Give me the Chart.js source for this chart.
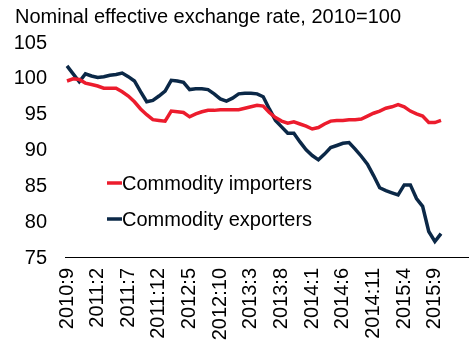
<!DOCTYPE html>
<html>
<head>
<meta charset="utf-8">
<script src="https://cdn.jsdelivr.net/npm/chart.js@4.4.1/dist/chart.umd.min.js"></script>
<style>
  body { margin: 0; background: #fff; }
  #neerChart { display: block; }
</style>
</head>
<body>
<canvas id="neerChart" width="469" height="344"></canvas>
<script>
// monthly categories, 2010:9 .. 2015:10
const months = [];
for (let y = 2010, m = 9; months.length < 62; m++) {
    if (m > 12) { m = 1; y++; }
    months.push(y + ':' + m);
}

const tickLabels = ['2010:9', '2011:2', '2011:7', '2011:12', '2012:5', '2012:10', '2013:3',
    '2013:8', '2014:1', '2014:6', '2014:11', '2015:4', '2015:9'];

const importers = [
    99.7, 100.0, 99.9, 99.4, 99.2, 99.0, 98.7, 98.7, 98.7, 98.2,
    97.6, 96.8, 95.8, 95.0, 94.3, 94.2, 94.1, 95.5, 95.4, 95.3,
    94.7, 95.1, 95.4, 95.6, 95.6, 95.7, 95.7, 95.7, 95.7, 95.9,
    96.1, 96.3, 96.2, 95.3, 94.6, 94.1, 93.8, 94.0, 93.7, 93.4,
    93.0, 93.2, 93.7, 94.1, 94.2, 94.2, 94.3, 94.3, 94.4, 94.8,
    95.2, 95.5, 95.9, 96.1, 96.4, 96.1, 95.5, 95.1, 94.8, 93.9,
    93.9, 94.2
];

const exporters = [
    101.8, 100.7, 99.6, 100.7, 100.4, 100.2, 100.3, 100.5, 100.6, 100.8,
    100.3, 99.7, 98.2, 96.8, 97.0, 97.6, 98.3, 99.8, 99.7, 99.5,
    98.5, 98.6, 98.6, 98.5, 97.9, 97.2, 96.9, 97.3, 97.9, 98.0,
    98.0, 97.9, 97.5, 95.8, 94.2, 93.3, 92.4, 92.4, 91.2, 90.1,
    89.3, 88.7, 89.5, 90.4, 90.7, 91.0, 91.1, 90.2, 89.2, 88.1,
    86.5, 84.8, 84.4, 84.1, 83.8, 85.2, 85.2, 83.3, 82.2, 78.7,
    77.3, 78.4
];

const seriesNames = ['Commodity importers', 'Commodity exporters'];
const RED = '#EC1C2D';
const NAVY = '#0B2847';
const FONT = 'Arial, "Liberation Sans", sans-serif';

// title, axis line and in-plot legend
const decorations = {
    id: 'decorations',
    afterDraw(chart) {
        const c = chart.ctx;
        const area = chart.chartArea;
        c.save();
        c.fillStyle = '#000';
        c.font = '20px ' + FONT;
        c.textAlign = 'left';
        c.textBaseline = 'alphabetic';
        c.fillText('Nominal effective exchange rate, 2010=100', 15, 23);

        c.strokeStyle = '#000';
        c.lineWidth = 1;
        c.beginPath();
        c.moveTo(area.left - 2, Math.round(area.bottom) - 0.5);
        c.lineTo(chart.width, Math.round(area.bottom) - 0.5);
        c.stroke();

        const rows = [183, 219];
        chart.data.datasets.forEach((ds, i) => {
            c.strokeStyle = ds.borderColor;
            c.lineWidth = 3.5;
            c.beginPath();
            c.moveTo(107, rows[i]);
            c.lineTo(122, rows[i]);
            c.stroke();
            c.fillStyle = '#000';
            c.textBaseline = 'middle';
            c.fillText(ds.label, 122, rows[i] + 1);
        });
        c.restore();
    }
};

new Chart(document.getElementById('neerChart').getContext('2d'), {
    type: 'line',
    data: {
        labels: months,
        datasets: [{
            label: seriesNames[0],
            data: importers,
            borderColor: RED,
            borderWidth: 3.5,
            pointRadius: 0,
            tension: 0
        }, {
            label: seriesNames[1],
            data: exporters,
            borderColor: NAVY,
            borderWidth: 3.5,
            pointRadius: 0,
            tension: 0
        }]
    },
    options: {
        responsive: false,
        animation: false,
        layout: { padding: { top: 43, right: 7, left: 0, bottom: 0 } },
        plugins: {
            legend: { display: false },
            tooltip: { enabled: false }
        },
        scales: {
            x: {
                offset: false,
                grid: { display: false, drawTicks: false },
                border: { display: false },
                afterFit(scale) { scale.height = 86; },
                ticks: {
                    autoSkip: false,
                    maxRotation: 90,
                    minRotation: 90,
                    padding: 10,
                    color: '#000',
                    font: { family: FONT, size: 20 },
                    callback(value, index) {
                        const lab = this.getLabelForValue(value);
                        return tickLabels.includes(lab) ? lab : null;
                    }
                }
            },
            y: {
                min: 75,
                max: 105,
                grid: { display: false, drawTicks: false },
                border: { display: false },
                afterFit(scale) { scale.width = 67; },
                ticks: {
                    stepSize: 5,
                    padding: 20,
                    color: '#000',
                    font: { family: FONT, size: 20 }
                }
            }
        }
    },
    plugins: [decorations]
});
</script>
</body>
</html>
